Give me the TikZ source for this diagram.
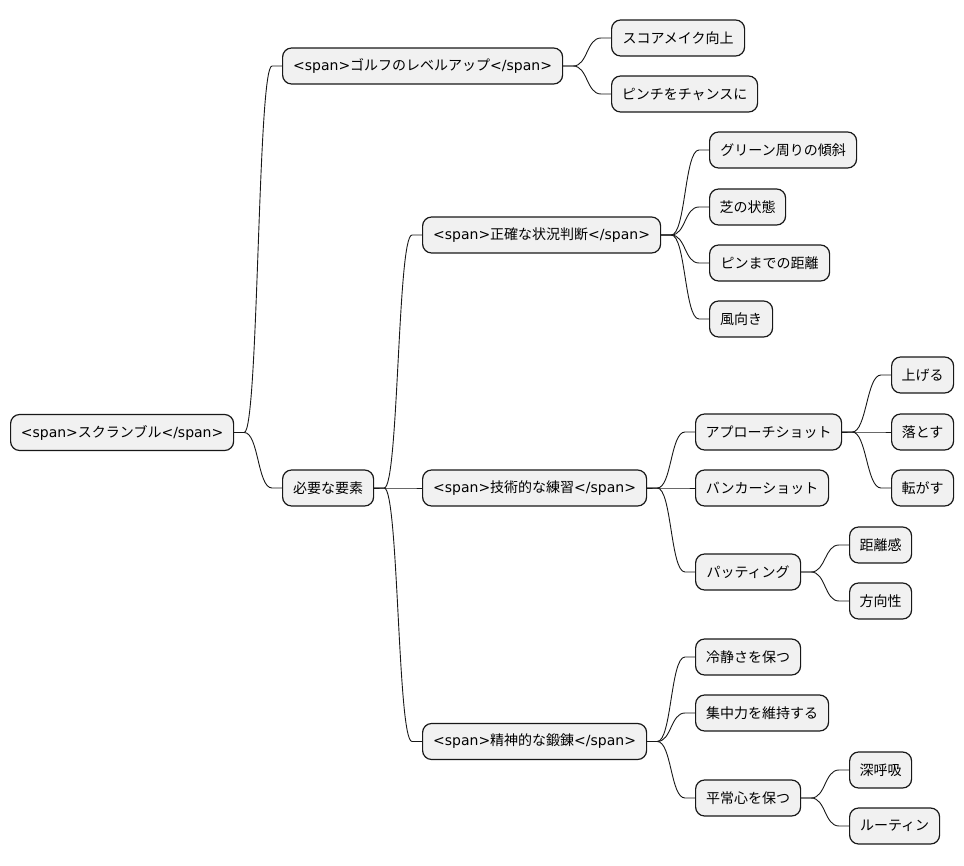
\documentclass[tikz,border=0pt]{standalone}
\usepackage{fontspec}
\setmainfont{Noto Sans CJK JP}
\newfontfamily\dvfont{DejaVu Sans}
\newcommand{\lt}[1]{{\dvfont #1}}
\definecolor{nodefill}{HTML}{F1F1F1}
\definecolor{nodeline}{HTML}{181818}
\tikzset{
  mmbox/.style={draw=nodeline, fill=nodefill, line width=1.2pt, rounded corners=9pt,
    anchor=west, minimum height=36pt, inner sep=0pt, font=\fontsize{14}{16}\selectfont},
  mmedge/.style={draw=nodeline, line width=0.9pt}
}
\newcommand{\mmlink}[2]{%
  \draw[mmedge] (#1.east) -- ([xshift=10pt]#1.east)
    .. controls ([xshift=24.5pt]#1.east) and ([xshift=-24.5pt]#2.west)
    .. ([xshift=-10pt]#2.west) -- (#2.west);}
\begin{document}
\begin{tikzpicture}[x=1pt,y=-1pt]
\useasboundingbox (0,0) rectangle (964,865);
% level 0
\node[mmbox, minimum width=223] (root) at (10,432.5) {\lt{<span>}スクランブル\lt{</span>}};
% level 1
\node[mmbox, minimum width=280] (golf) at (282,66) {\lt{<span>}ゴルフのレベルアップ\lt{</span>}};
\node[mmbox, minimum width=91] (need) at (282,488) {必要な要素};
% golf children
\node[mmbox, minimum width=133] (score) at (611,38) {スコアメイク向上};
\node[mmbox, minimum width=146] (pinch) at (611,94) {ピンチをチャンスに};
% need children
\node[mmbox, minimum width=238] (seikaku) at (422,235) {\lt{<span>}正確な状況判断\lt{</span>}};
\node[mmbox, minimum width=224] (gijutsu) at (422,488) {\lt{<span>}技術的な練習\lt{</span>}};
\node[mmbox, minimum width=224] (seishin) at (422,741.5) {\lt{<span>}精神的な鍛錬\lt{</span>}};
% seikaku children
\node[mmbox, minimum width=147] (green) at (709,150) {グリーン周りの傾斜};
\node[mmbox, minimum width=76] (shiba) at (709,207) {芝の状態};
\node[mmbox, minimum width=120] (pin) at (709,263) {ピンまでの距離};
\node[mmbox, minimum width=63] (kaze) at (709,319) {風向き};
% gijutsu children
\node[mmbox, minimum width=146] (approach) at (695,432) {アプローチショット};
\node[mmbox, minimum width=133] (bunker) at (695,488) {バンカーショット};
\node[mmbox, minimum width=105] (putting) at (695,572) {パッティング};
% approach children
\node[mmbox, minimum width=62] (ageru) at (891,375) {上げる};
\node[mmbox, minimum width=62] (otosu) at (891,432) {落とす};
\node[mmbox, minimum width=62] (korogasu) at (891,488) {転がす};
% putting children
\node[mmbox, minimum width=62] (kyori) at (849,545) {距離感};
\node[mmbox, minimum width=62] (houkou) at (849,601) {方向性};
% seishin children
\node[mmbox, minimum width=105] (reisei) at (695,657) {冷静さを保つ};
\node[mmbox, minimum width=133] (shuchu) at (695,713) {集中力を維持する};
\node[mmbox, minimum width=105] (heijo) at (695,798) {平常心を保つ};
% heijo children
\node[mmbox, minimum width=62] (shinkokyu) at (849,770) {深呼吸};
\node[mmbox, minimum width=90] (routine) at (849,826) {ルーティン};
% edges
\mmlink{root}{golf}
\mmlink{root}{need}
\mmlink{golf}{score}
\mmlink{golf}{pinch}
\mmlink{need}{seikaku}
\mmlink{need}{gijutsu}
\mmlink{need}{seishin}
\mmlink{seikaku}{green}
\mmlink{seikaku}{shiba}
\mmlink{seikaku}{pin}
\mmlink{seikaku}{kaze}
\mmlink{gijutsu}{approach}
\mmlink{gijutsu}{bunker}
\mmlink{gijutsu}{putting}
\mmlink{approach}{ageru}
\mmlink{approach}{otosu}
\mmlink{approach}{korogasu}
\mmlink{putting}{kyori}
\mmlink{putting}{houkou}
\mmlink{seishin}{reisei}
\mmlink{seishin}{shuchu}
\mmlink{seishin}{heijo}
\mmlink{heijo}{shinkokyu}
\mmlink{heijo}{routine}
\end{tikzpicture}
\end{document}
